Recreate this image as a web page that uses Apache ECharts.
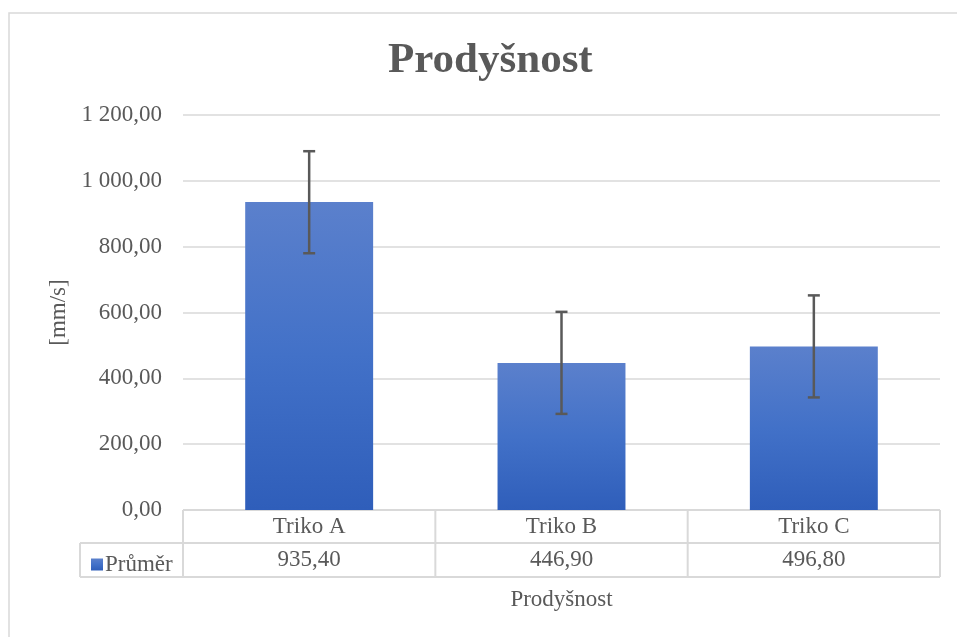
<!DOCTYPE html>
<html>
<head>
<meta charset="utf-8">
<script src="https://cdn.jsdelivr.net/npm/echarts@6/dist/echarts.min.js"></script>
<style>html,body{margin:0;padding:0;background:#fff;}#c{width:957px;height:637px;}</style>
</head>
<body>
<div id="c"></div>
<script>
const categories = ['Triko A', 'Triko B', 'Triko C'];
const means = [935.4, 446.9, 496.8];
const errUpper = [1090, 602, 652];
const errLower = [780, 292, 342];
const yTicks = [0, 200, 400, 600, 800, 1000, 1200];

function fmt(v) {
  const parts = v.toFixed(2).split('.');
  const intPart = parts[0].replace(/\B(?=(\d{3})+(?!\d))/g, ' ');
  return intPart + ',' + parts[1];
}

const FONT = 'Liberation Serif';
const TXT = '#595959';
const LINE = '#d9d9d9';

const chart = echarts.init(document.getElementById('c'), null, {renderer: 'canvas'});
const gridLeft = 183, gridRight = 17, gridTop = 115, gridBottom = 127;

const option = {
  animation: false,
  backgroundColor: '#fff',
  title: {
    text: 'Prodyšnost', left: 383, top: 34,
    textStyle: {fontFamily: FONT, fontSize: 43, fontWeight: 'bold', color: TXT}
  },
  legend: {
    data: ['Průměr'], left: 86, top: 548, icon: 'rect', itemWidth: 12, itemHeight: 12, itemGap: 0,
    textStyle: {fontFamily: FONT, fontSize: 23, color: TXT, padding: [0, 0, 0, -3]}
  },
  grid: {left: gridLeft, right: gridRight, top: gridTop, bottom: gridBottom, containLabel: false},
  xAxis: {
    type: 'category', data: categories,
    axisLine: {show: false}, axisTick: {show: false},
    axisLabel: {
      margin: 0,
      formatter: function (val, idx) { return '{a|' + val + '}\n{b|' + fmt(means[idx]) + '}'; },
      rich: {
        a: {fontFamily: FONT, fontSize: 23, color: TXT, lineHeight: 33, height: 33, verticalAlign: 'middle'},
        b: {fontFamily: FONT, fontSize: 23, color: TXT, lineHeight: 34, height: 34, verticalAlign: 'middle'}
      }
    },
    name: 'Prodyšnost', nameLocation: 'middle', nameGap: 78,
    nameTextStyle: {fontFamily: FONT, fontSize: 23, color: TXT}
  },
  yAxis: {
    type: 'value', min: yTicks[0], max: yTicks[yTicks.length - 1], interval: 200,
    axisLine: {show: false}, axisTick: {show: false},
    splitLine: {lineStyle: {color: LINE, width: 1.5}},
    axisLabel: {margin: 21, fontFamily: FONT, fontSize: 23, color: TXT, formatter: fmt},
    name: '[mm/s]', nameLocation: 'middle', nameGap: 113, nameRotate: 90,
    nameTextStyle: {fontFamily: FONT, fontSize: 23, color: TXT}
  },
  series: [
    {
      name: 'Průměr', type: 'bar', data: means, barWidth: '50.7%',
      itemStyle: {
        color: new echarts.graphic.LinearGradient(0, 0, 0, 1, [
          {offset: 0, color: '#5b80cc'}, {offset: 0.5, color: '#4271c8'}, {offset: 1, color: '#2f5eba'}
        ]),
        shadowBlur: 4, shadowColor: 'rgba(0,0,0,0.3)', shadowOffsetX: 1, shadowOffsetY: 1
      },
      color: '#3f6cc4'
    },
    {
      name: 'err', type: 'custom',
      data: categories.map((c, i) => [i, errLower[i], errUpper[i]]),
      renderItem: function (params, api) {
        const x = api.value(0);
        const lo = api.coord([x, api.value(1)]);
        const hi = api.coord([x, api.value(2)]);
        const hw = 6;
        const st = {stroke: '#595959', lineWidth: 2.5};
        return {type: 'group', children: [
          {type: 'line', shape: {x1: lo[0], y1: lo[1], x2: hi[0], y2: hi[1]}, style: st},
          {type: 'line', shape: {x1: lo[0] - hw, y1: lo[1], x2: lo[0] + hw, y2: lo[1]}, style: st},
          {type: 'line', shape: {x1: hi[0] - hw, y1: hi[1], x2: hi[0] + hw, y2: hi[1]}, style: st}
        ]};
      },
      z: 5
    }
  ]
};
chart.setOption(option);

// data table lines
const y0 = chart.convertToPixel({yAxisIndex: 0}, 0);
const xL = gridLeft, xR = 957 - gridRight;
const rowH1 = 33, rowH2 = 34;
const y1 = y0 + rowH1, y2 = y1 + rowH2;
const leftCol = 80;
const ls = {stroke: LINE, lineWidth: 2};
const elems = [
  {type: 'rect', shape: {x: 9, y: 13, width: 1000, height: 700}, style: {fill: 'none', stroke: LINE, lineWidth: 1.5}, silent: true},
  {type: 'line', shape: {x1: xL, y1: y0, x2: xR, y2: y0}, style: ls},
  {type: 'line', shape: {x1: leftCol, y1: y1, x2: xR, y2: y1}, style: ls},
  {type: 'line', shape: {x1: leftCol, y1: y2, x2: xR, y2: y2}, style: ls},
  {type: 'line', shape: {x1: leftCol, y1: y1, x2: leftCol, y2: y2}, style: ls}
];
const step = (xR - xL) / categories.length;
for (let i = 0; i <= categories.length; i++) {
  const x = xL + step * i;
  elems.push({type: 'line', shape: {x1: x, y1: y0, x2: x, y2: y2}, style: ls});
}
chart.setOption({graphic: elems.map(e => Object.assign({z: 1}, e))});
</script>
</body>
</html>
